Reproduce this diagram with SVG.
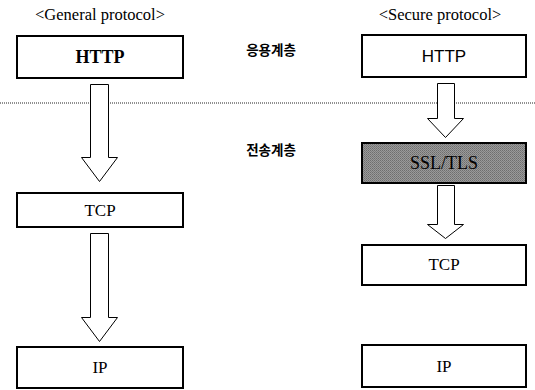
<svg xmlns="http://www.w3.org/2000/svg" width="535" height="390" viewBox="0 0 535 390">
  <style>
    .box { fill: #fff; stroke: #000; stroke-width: 2; }
    .ssl { fill: url(#dither); stroke: #000; stroke-width: 2; }
    .arrow { fill: #fff; stroke: #000; stroke-width: 1; }
    .serif { font-family: "Liberation Serif", Tinos, "Times New Roman", "DejaVu Serif", serif; fill: #000; text-anchor: middle; }
    .sans { font-family: "Liberation Sans", Arimo, Arial, sans-serif; fill: #000; text-anchor: middle; }
    .kr { font-family: "Noto Sans CJK KR", "Noto Sans", sans-serif; fill: #000; text-anchor: middle; font-size: 13.5px; font-weight: bold; }
    .title { font-size: 16.5px; }
    .label { font-size: 17px; }
  </style>
  <defs>
    <!-- fine checker texture for the shaded SSL/TLS layer -->
    <pattern id="dither" width="2" height="2" patternUnits="userSpaceOnUse">
      <rect width="2" height="2" fill="#9a9a9a"/>
      <rect width="1" height="1" fill="#6e6e6e"/>
      <rect x="1" y="1" width="1" height="1" fill="#7c7c7c"/>
    </pattern>
  </defs>

  <rect width="535" height="390" fill="#fff"/>

  <!-- column headings -->
  <text class="serif title" x="100" y="20">&lt;General protocol&gt;</text>
  <text class="serif title" x="440" y="20">&lt;Secure protocol&gt;</text>

  <!-- layer names and separator -->
  <text class="kr" x="271" y="55">응용계층</text>
  <text class="kr" x="271" y="155">전송계층</text>
  <line x1="0" y1="103" x2="535" y2="103" stroke="#222" stroke-width="1" stroke-dasharray="1,1"/>

  <!-- connectors -->
  <g id="connectors">
    <polygon class="arrow" points="90.5,84.5 108.5,84.5 108.5,157.5 117.5,157.5 99.5,181.5 81.5,157.5 90.5,157.5"/>
    <polygon class="arrow" points="90.5,233.5 108.5,233.5 108.5,317.5 117.5,317.5 99.5,341.5 81.5,317.5 90.5,317.5"/>
    <polygon class="arrow" points="437.5,83.5 454.5,83.5 454.5,118.5 463.5,118.5 445.5,137.5 427.5,118.5 437.5,118.5"/>
    <polygon class="arrow" points="437.5,185.5 454.5,185.5 454.5,224.5 463.5,224.5 445.5,238.5 427.5,224.5 437.5,224.5"/>
  </g>

  <!-- general protocol stack -->
  <g id="gen-http">
    <rect class="box" x="17" y="36" width="166" height="42"/>
    <text class="serif" x="100" y="63" font-size="18" font-weight="bold">HTTP</text>
  </g>
  <g id="gen-tcp">
    <rect class="box" x="17" y="193" width="166" height="34"/>
    <text class="serif label" x="100" y="216">TCP</text>
  </g>
  <g id="gen-ip">
    <rect class="box" x="17" y="347" width="166" height="41"/>
    <text class="serif label" x="100" y="373">IP</text>
  </g>

  <!-- secure protocol stack -->
  <g id="sec-http">
    <rect class="box" x="362" y="35" width="164" height="42"/>
    <text class="sans" x="444" y="62" font-size="17">HTTP</text>
  </g>
  <g id="sec-ssl">
    <rect class="ssl" x="362" y="143" width="164" height="40"/>
    <text class="serif" x="444" y="169" font-size="18" fill="#1a1a1a">SSL/TLS</text>
  </g>
  <g id="sec-tcp">
    <rect class="box" x="362" y="245" width="164" height="40"/>
    <text class="serif label" x="444" y="270">TCP</text>
  </g>
  <g id="sec-ip">
    <rect class="box" x="362" y="345" width="164" height="42"/>
    <text class="serif label" x="444" y="372">IP</text>
  </g>
</svg>
